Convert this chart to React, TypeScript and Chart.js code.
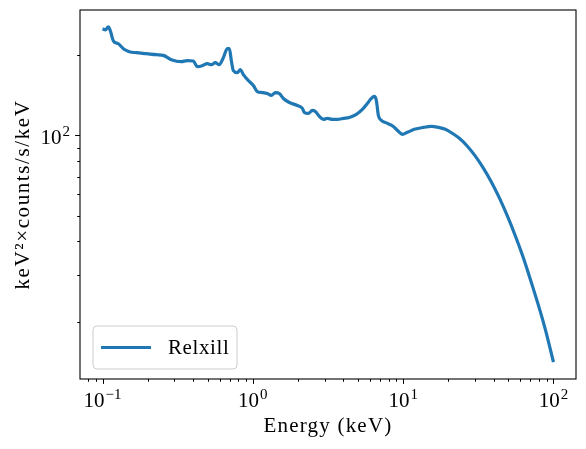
import React, { useEffect, useRef } from 'react';
import { Chart, registerables } from 'chart.js';

Chart.register(...registerables);

// ---- data ----
const energyKeV = [
  0.1, 0.1044, 0.1093, 0.1127, 0.118, 0.1274, 0.1375, 0.1508, 0.1679, 0.1956,
  0.228, 0.2539, 0.287, 0.3344, 0.3666, 0.4018, 0.4272, 0.4613, 0.498, 0.5295,
  0.5627, 0.5983, 0.6362, 0.6765, 0.6976, 0.7194, 0.7418, 0.7888, 0.8257, 0.8646,
  0.9334, 1.008, 1.071, 1.157, 1.249, 1.328, 1.411, 1.5, 1.596, 1.749,
  1.977, 2.135, 2.201, 2.34, 2.488, 2.605, 2.77, 2.944, 3.131, 3.381,
  3.65, 4.0, 4.386, 4.883, 5.352, 5.779, 6.143, 6.432, 6.632, 6.839,
  7.161, 7.852, 8.608, 9.292, 9.878, 10.66, 11.87, 13.63, 15.4, 17.15,
  19.09, 21.26, 23.66, 26.75, 30.22, 34.17, 38.63, 43.66, 49.35, 55.79,
  63.05, 71.29, 80.58, 89.7, 100,
];
const fluxValues = [
  251, 248.9, 255.5, 246.7, 226.3, 220.6, 211.4, 206, 204.2, 202.5,
  200.7, 199.5, 192.2, 189, 190.6, 190, 181, 182.6, 185.8, 184.1,
  187.3, 184.1, 195.6, 211.4, 211.4, 190.6, 174.9, 171.9, 176.4, 169,
  160.6, 153.8, 146, 144.7, 143.5, 141.1, 144.7, 143.5, 137.5, 132.8,
  129.4, 126.2, 121.9, 120.8, 124, 122.9, 117.8, 114.8, 115.7, 114.8,
  114.8, 115.7, 116.7, 119.8, 125, 131.7, 137.5, 139.9, 135.1, 118.8,
  113.8, 110.9, 108, 103.5, 100.9, 102.6, 105.3, 107.1, 108, 107.1,
  105.3, 101.7, 97.5, 91, 83.5, 75.3, 66.8, 58.2, 49.8, 41.9,
  34.7, 28, 22.4, 18.06, 14.07,
];
const seriesLabel = 'Relxill';
const xTitle = 'Energy (keV)';
const yTitle = 'keV²×counts/s/keV';
const xTickBase = ['10', '10', '10', '10'];
const xTickExponents = ['−1', '0', '1', '2'];
const xTickValues = [0.1, 1, 10, 100];
const yTickBase = ['10'];
const yTickExponents = ['2'];
const yTickValues = [100];

const LINE_COLOR = '#1f77b4';
const FONT = "'Liberation Serif', 'DejaVu Serif', serif";

function logLimits(vals: number[]) {
  const lo = Math.log10(Math.min(...vals));
  const hi = Math.log10(Math.max(...vals));
  const m = (hi - lo) * 0.05;
  return { min: Math.pow(10, lo - m), max: Math.pow(10, hi + m) };
}

function logTicks(min: number, max: number, majors: number[]) {
  const out: { value: number; major: boolean }[] = [];
  for (let k = Math.floor(Math.log10(min)); k <= Math.ceil(Math.log10(max)); k++) {
    for (let m = 1; m <= 9; m++) {
      const v = m * Math.pow(10, k);
      if (v >= min && v <= max) {
        out.push({ value: v, major: majors.some((d) => Math.abs(d - v) / d < 1e-9) });
      }
    }
  }
  return out;
}

function drawPow(ctx: CanvasRenderingContext2D, base: string, exp: string, x: number, baseline: number, align: 'center' | 'right') {
  ctx.font = `21px ${FONT}`;
  const bw = ctx.measureText(base).width;
  ctx.font = `15px ${FONT}`;
  const ew = ctx.measureText(exp).width;
  const total = bw + 1 + ew;
  const start = align === 'center' ? x - total / 2 : x - total;
  ctx.textAlign = 'left';
  ctx.textBaseline = 'alphabetic';
  ctx.fillStyle = '#000';
  ctx.font = `21px ${FONT}`;
  ctx.fillText(base, start, baseline);
  ctx.font = `15px ${FONT}`;
  ctx.fillText(exp, start + bw + 1, baseline - 8);
}

const decorPlugin = {
  id: 'decor',
  afterDraw(chart: any) {
    const ctx: CanvasRenderingContext2D = chart.ctx;
    const a = chart.chartArea;
    const xs = chart.scales.x;
    const ys = chart.scales.y;
    ctx.save();
    // frame
    ctx.strokeStyle = '#000';
    ctx.lineWidth = 1.1;
    ctx.strokeRect(a.left, a.top, a.right - a.left, a.bottom - a.top);
    // ticks
    ctx.lineWidth = 1;
    ctx.beginPath();
    for (const t of xs.ticks) {
      const px = Math.round(xs.getPixelForValue(t.value)) + 0.5;
      const len = t.major ? 4.9 : 2.8;
      ctx.moveTo(px, a.bottom);
      ctx.lineTo(px, a.bottom + len);
    }
    for (const t of ys.ticks) {
      const py = Math.round(ys.getPixelForValue(t.value)) + 0.5;
      const len = t.major ? 4.9 : 2.8;
      ctx.moveTo(a.left, py);
      ctx.lineTo(a.left - len, py);
    }
    ctx.stroke();
    // tick labels
    xTickValues.forEach((v, i) => {
      const px = xs.getPixelForValue(v);
      drawPow(ctx, xTickBase[i], xTickExponents[i], px, a.bottom + 28, 'center');
    });
    yTickValues.forEach((v, i) => {
      const py = ys.getPixelForValue(v);
      drawPow(ctx, yTickBase[i], yTickExponents[i], a.left - 10, py + 9, 'right');
    });
    // axis titles
    ctx.fillStyle = '#000';
    ctx.font = `21px ${FONT}`;
    (ctx as any).letterSpacing = '1.2px';
    ctx.textAlign = 'center';
    ctx.textBaseline = 'middle';
    ctx.fillText(xTitle, (a.left + a.right) / 2, 426);
    ctx.save();
    ctx.translate(23, (a.top + a.bottom) / 2);
    ctx.rotate(-Math.PI / 2);
    (ctx as any).letterSpacing = '1.6px';
    ctx.fillText(yTitle, 0, 0);
    ctx.restore();
    (ctx as any).letterSpacing = '0px';
    // legend
    const lx = a.left + 13;
    const ly = a.bottom - 53;
    const lw = 144;
    const lh = 43;
    ctx.beginPath();
    ctx.roundRect(lx, ly, lw, lh, 4);
    ctx.fillStyle = 'rgba(255,255,255,0.8)';
    ctx.fill();
    ctx.strokeStyle = '#cccccc';
    ctx.lineWidth = 1;
    ctx.stroke();
    ctx.beginPath();
    ctx.strokeStyle = LINE_COLOR;
    ctx.lineWidth = 3.2;
    ctx.moveTo(lx + 8, ly + lh / 2);
    ctx.lineTo(lx + 58, ly + lh / 2);
    ctx.stroke();
    ctx.fillStyle = '#000';
    ctx.font = `21px ${FONT}`;
    (ctx as any).letterSpacing = '0.6px';
    ctx.textAlign = 'left';
    ctx.textBaseline = 'middle';
    ctx.fillText(seriesLabel, lx + 75, ly + lh / 2 + 1);
    ctx.restore();
  },
};

export default function App() {
  const ref = useRef<HTMLCanvasElement | null>(null);
  useEffect(() => {
    document.body.style.margin = '0';
    if (!ref.current) return;
    const xl = logLimits(energyKeV);
    const yl = logLimits(fluxValues);
    const chart = new Chart(ref.current, {
      type: 'line',
      data: {
        datasets: [
          {
            label: seriesLabel,
            data: energyKeV.map((e, i) => ({ x: e, y: fluxValues[i] })),
            borderColor: LINE_COLOR,
            backgroundColor: LINE_COLOR,
            borderWidth: 3.2,
            pointRadius: 0,
            cubicInterpolationMode: 'monotone',
            borderJoinStyle: 'round',
            borderCapStyle: 'butt',
          },
        ],
      },
      options: {
        responsive: false,
        animation: false,
        devicePixelRatio: 1,
        layout: { padding: { top: 10, right: 10, left: 0, bottom: 0 } },
        plugins: { legend: { display: false }, tooltip: { enabled: false } },
        scales: {
          x: {
            type: 'logarithmic',
            min: xl.min,
            max: xl.max,
            grid: { display: false },
            border: { display: false },
            ticks: { display: false },
            afterBuildTicks: (s: any) => { s.ticks = logTicks(xl.min, xl.max, xTickValues); },
            afterFit: (s: any) => { s.height = 70; },
            title: { display: false, text: xTitle },
          },
          y: {
            type: 'logarithmic',
            min: yl.min,
            max: yl.max,
            grid: { display: false },
            border: { display: false },
            ticks: { display: false },
            afterBuildTicks: (s: any) => { s.ticks = logTicks(yl.min, yl.max, yTickValues); },
            afterFit: (s: any) => { s.width = 80; },
            title: { display: false, text: yTitle },
          },
        },
      },
      plugins: [decorPlugin],
    } as any);
    return () => chart.destroy();
  }, []);
  return (
    <div style={{ width: 586, height: 449 }}>
      <canvas ref={ref} width={586} height={449} style={{ display: 'block', width: 586, height: 449 }} />
    </div>
  );
}
